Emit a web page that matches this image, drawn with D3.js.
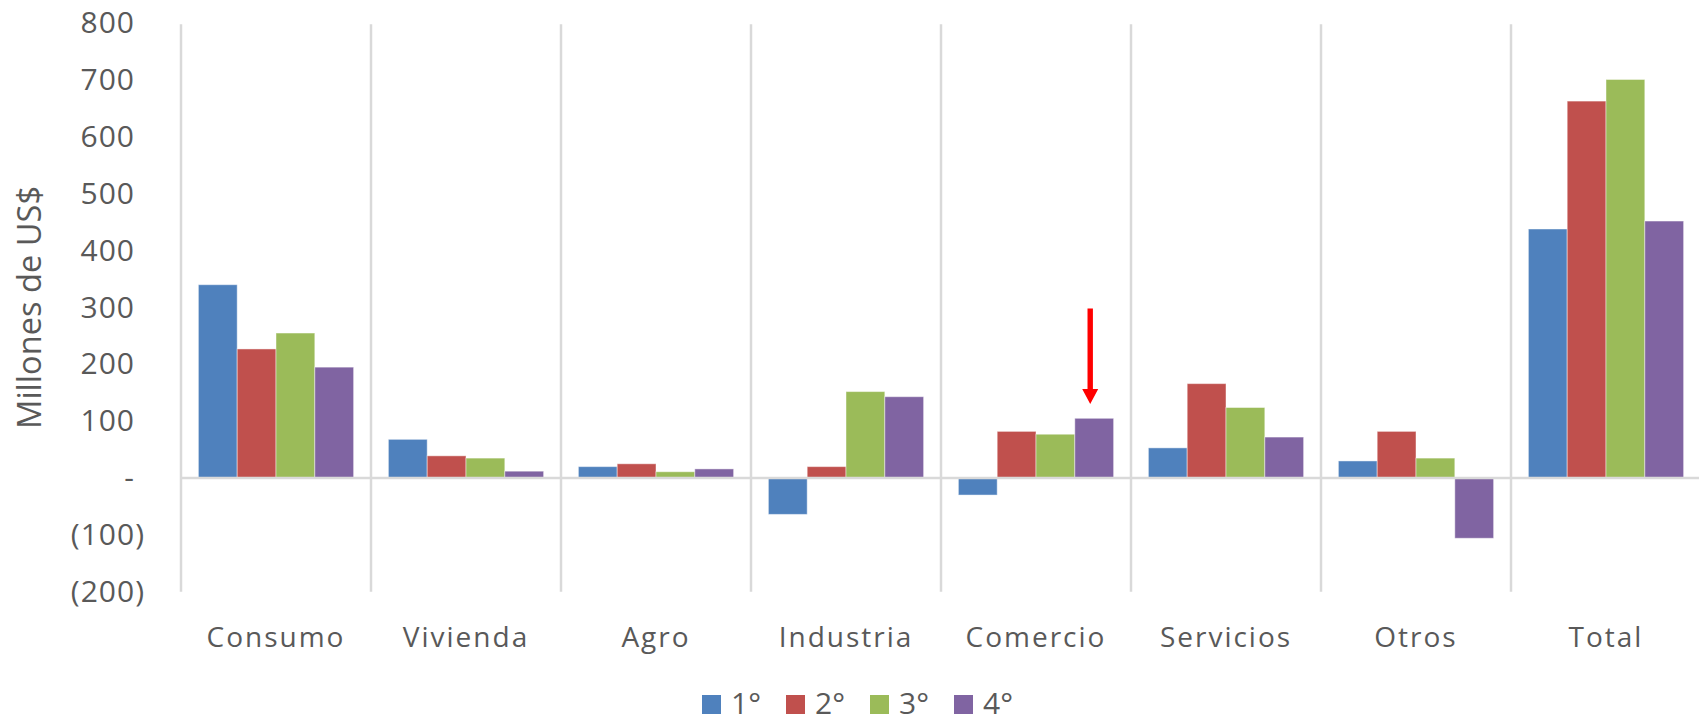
<!DOCTYPE html>
<html><head><meta charset="utf-8">
<script src="https://cdn.jsdelivr.net/npm/d3@7"></script>
<style>body{margin:0;background:#fff}text{font-family:"Open Sans",sans-serif;fill:#595959}</style>
</head><body><svg id="c" width="1699" height="723"></svg>
<script>
const categories = ["Consumo","Vivienda","Agro","Industria","Comercio","Servicios","Otros","Total"];
const seriesNames = ["1°","2°","3°","4°"];
const s1 = [340, 68, 20, -64, -30, 53, 30, 438];
const s2 = [227, 39, 25, 20, 82, 166, 82, 663];
const s3 = [255, 35, 11, 152, 77, 124, 35, 701];
const s4 = [195, 12, 16, 143, 105, 72, -106, 452];
const colors = ["#4f81bd", "#c0504d", "#9bbb59", "#8064a2"];
const yTicks = [-200, -100, 0, 100, 200, 300, 400, 500, 600, 700, 800];
const yTitle = "Millones de US$";
const arrowCategory = "Comercio", arrowSeries = "4°", arrowFrom = 298, arrowTo = 130;

const seriesValues = [s1, s2, s3, s4];
const W = 1699, H = 723;
const svg = d3.select("#c");

const x0 = d3.scaleBand().domain(categories).range([181, 1701]).paddingInner(0).paddingOuter(0);
const x1 = d3.scaleBand().domain(seriesNames).range([0, x0.bandwidth()]).paddingInner(0).paddingOuter(0.448);
const y = d3.scaleLinear().domain([-200, 800]).range([591.7, 23.2]);

const grid = "#d9d9d9";
// vertical category separators
const bounds = d3.range(categories.length + 1).map(i => x0.range()[0] + i * x0.step());
svg.append("g").selectAll("line").data(bounds).join("line")
  .attr("x1", d => d).attr("x2", d => d)
  .attr("y1", y(800) + 1).attr("y2", y(-200))
  .attr("stroke", grid).attr("stroke-width", 2.5);

// bars
const data = [];
categories.forEach((c, ci) => seriesNames.forEach((s, si) => data.push({c, s, si, v: seriesValues[si][ci]})));
svg.append("g").selectAll("rect").data(data).join("rect")
  .attr("x", d => x0(d.c) + x1(d.s))
  .attr("width", x1.bandwidth())
  .attr("y", d => y(Math.max(0, d.v)))
  .attr("height", d => Math.abs(y(d.v) - y(0)))
  .attr("fill", d => colors[d.si])
  .attr("stroke", "#ffffff").attr("stroke-opacity", 0.45).attr("stroke-width", 1);

// zero line
svg.append("line").attr("x1", x0.range()[0]).attr("x2", W)
  .attr("y1", y(0)).attr("y2", y(0)).attr("stroke", grid).attr("stroke-width", 2.5);

// y axis labels
const fmt = v => v === 0 ? "-" : (v < 0 ? "(" + Math.abs(v) + ")" : String(v));
const yAxis = svg.append("g").attr("transform", "translate(135,0)")
  .call(d3.axisLeft(y).tickValues(yTicks).tickFormat(fmt).tickSize(0).tickPadding(0));
yAxis.select(".domain").remove();
yAxis.selectAll("text")
  .style("font-family", '"Open Sans",sans-serif').style("font-size", "30px")
  .style("letter-spacing", "1px").attr("fill", "#595959")
  .attr("dx", d => d < 0 ? 10 : 0);

// y title
svg.append("text").attr("transform", `translate(41,${(y(800)+y(-200))/2}) rotate(-90)`)
  .attr("text-anchor", "middle").style("font-size", "33px")
  .attr("textLength", 243).attr("lengthAdjust", "spacingAndGlyphs")
  .text(yTitle);

// x axis labels
const xAxis = svg.append("g").attr("transform", "translate(0,625)")
  .call(d3.axisBottom(x0).tickSize(0).tickPadding(0));
xAxis.select(".domain").remove();
xAxis.selectAll("text").attr("dy", "0.8em")
  .style("font-family", '"Open Sans",sans-serif').style("font-size", "28px")
  .style("letter-spacing", "2px").attr("fill", "#595959");

// legend
const leg = svg.append("g");
const items = leg.selectAll("g").data(seriesNames).join("g");
items.append("rect").attr("width", 19).attr("height", 19).attr("y", 695).attr("fill", (d, i) => colors[i]);
items.append("text").attr("x", 29).attr("y", 714).style("font-size", "30px").text(d => d);
let cx = 0;
const pos = [];
items.each(function(d) { pos.push(cx); cx += 29 + this.querySelector("text").getComputedTextLength() + 25; });
const total = cx - 25;
const start = W / 2 + 8 - total / 2;
items.attr("transform", (d, i) => `translate(${start + pos[i]},0)`);

// red arrow annotation
const ax = x0(arrowCategory) + x1(arrowSeries) + x1.bandwidth() / 2 - 4;
const headLen = 15, headW = 8, shaftW = 2.7;
const y0a = y(arrowFrom), y1a = y(arrowTo);
svg.append("path")
  .attr("d", `M${ax - shaftW},${y0a} L${ax + shaftW},${y0a} L${ax + shaftW},${y1a - headLen} L${ax + headW},${y1a - headLen} L${ax},${y1a} L${ax - headW},${y1a - headLen} L${ax - shaftW},${y1a - headLen} Z`)
  .attr("fill", "#ff0000");
</script></body></html>
